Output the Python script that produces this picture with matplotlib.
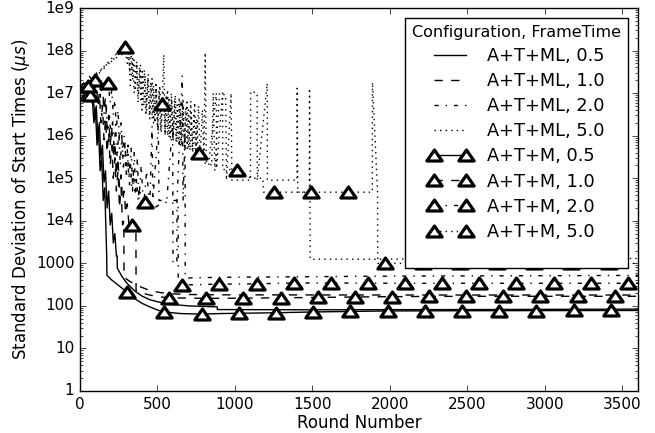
import matplotlib
matplotlib.use("Agg")
import matplotlib.pyplot as plt
from matplotlib.lines import Line2D
from matplotlib.markers import MarkerStyle
from matplotlib.path import Path

# A+T+ML runs (lines only)
ml05_x = [0, 20, 40, 60, 75, 85, 95, 105, 115, 125, 135, 145, 155, 165, 175, 185, 195, 205, 215, 225, 235, 240,
          241, 270, 300, 350, 400, 450, 500, 550, 600, 700, 800, 885, 886, 1500, 2500, 3600]
ml05_y = [6e6, 9e6, 1.1e7, 1e7, 6e6, 8e6, 3e6, 5e6, 1e6, 2e6, 3e5, 6e5, 8e4, 1.5e5, 2e4, 5e4, 8e3, 1.5e4, 3e3, 5e3, 1.5e3, 1.5e3,
          770, 500, 350, 230, 170, 140, 125, 115, 108, 100, 97, 95, 82, 81, 82, 84]

ml10_x = [0, 30, 60, 80, 95, 105, 115, 125, 135, 145, 155, 165, 175, 185, 195, 205, 215, 225, 235, 245, 255, 265, 275, 283,
          284, 320, 380, 450, 520, 600, 700, 900, 2000, 3600]
ml10_y = [1.2e7, 2e7, 2.5e7, 2e7, 1.2e7, 1.8e7, 5e6, 1e7, 2e6, 5e6, 8e5, 2.5e6, 4e5, 1.2e6, 2e5, 6e5, 1e5, 3e5, 5e4, 1.5e5, 2e4, 6e4, 8e3, 1e4,
          470, 380, 290, 230, 205, 192, 185, 182, 180, 180]

ml20_x = [0, 30, 60, 90, 110, 120, 130, 140, 150, 160, 170, 180, 190, 200, 210, 220, 230, 240, 250, 260, 270, 280, 290,
          300, 310, 320, 330, 340, 350, 360, 370, 380, 395, 410, 430, 450, 465, 470, 505, 510, 560, 598, 600, 625,
          626, 660, 665, 678, 679, 900, 2000, 3600]
ml20_y = [1e7, 1.5e7, 2e7, 1.7e7, 1.2e7, 5e6, 1e7, 3e6, 7e6, 2e6, 5e6, 1.2e6, 3.5e6, 8e5, 2.5e6, 5e5, 1.8e6, 3e5, 1.3e6, 2e5, 1e6, 1.5e5, 8e5,
          1e5, 6e5, 7e4, 5e5, 5e4, 4e5, 4e4, 3e5, 3e4, 2e5, 2e4, 1.5e5, 2e4, 1.7e6, 3e4, 1.7e6, 3e4, 3e4, 2e6, 1000, 1000,
          3e4, 2.6e7, 3e4, 1.1e6, 450, 470, 500, 520]

ml50_x = [0, 15, 30, 45, 60, 75, 90, 105, 120, 135, 150, 165, 180, 195, 210, 225, 240, 255, 270, 285, 300,
          315, 325, 340, 350, 365, 375, 390, 400, 415, 425, 440, 450, 465, 475, 490, 500, 515, 525, 540, 550,
          565, 575, 590, 600, 615, 625, 640, 650, 665, 675, 690, 700, 715, 725, 740, 750, 765, 775, 790, 800,
          808, 815, 850, 860, 870, 900, 940, 945, 975, 980, 1100, 1101, 1143, 1144, 1208, 1209, 1400, 1401,
          1405, 1480, 1481, 1485, 1920, 1930, 2500, 3600]
ml50_y = [8e6, 1.4e7, 1.1e7, 1.8e7, 1.5e7, 2.4e7, 2e7, 3e7, 2.6e7, 3.8e7, 3.3e7, 4.8e7, 4.2e7, 6e7, 5.2e7, 7.5e7, 6.5e7, 9e7, 8e7, 1.1e8, 9e7,
          8e7, 1.5e7, 6.5e7, 1e7, 5.5e7, 6e6, 4.5e7, 4e6, 3.5e7, 3e6, 2.8e7, 2.5e6, 2.2e7, 2e6, 1.8e7, 1.5e6, 1.5e7, 1.2e6, 8e7, 1e6,
          1.2e7, 9e5, 1e7, 8e5, 9e6, 7e5, 8e6, 6e5, 7.5e6, 5.5e5, 7e6, 5e5, 6.5e6, 4.5e5, 6e6, 4e5, 5e6, 3.5e5, 4e6, 3e5,
          9e7, 2.5e5, 2e5, 1e7, 1.5e5, 1e7, 9e6, 9e4, 1e7, 9e4, 9e4, 1.1e7, 1e7, 9e4, 1.7e7, 9e4, 9e4, 1.3e7,
          4.7e4, 4.7e4, 1.3e7, 1250, 1250, 1250, 1300, 1300]

# A+T+M runs (lines with triangle markers)
m05_x = [0, 30, 65, 80, 90, 100, 110, 120, 130, 140, 150, 160, 168, 172, 174, 200, 250, 304, 350, 400, 450, 500,
         545, 650, 785, 900, 1025, 1265, 1505, 1745, 1985, 2500, 3600]
m05_y = [7e6, 9e6, 9e6, 7e6, 2e6, 4e6, 6e5, 1.2e6, 1.5e5, 3e5, 3e4, 6e4, 5e3, 1.8e3, 525, 420, 300, 210, 150, 115, 95, 80,
         72, 66, 64, 66, 67, 69, 72, 74, 76, 77, 78]

m10_x = [0, 50, 97, 120, 135, 145, 155, 165, 175, 185, 195, 205, 215, 225, 235, 245, 255, 265, 275, 285, 295, 305, 315, 325,
         337, 350, 361, 362, 400, 450, 500, 576, 816, 1055, 1295, 1534, 1774, 2013, 2500, 3600]
m10_y = [1.5e7, 1.8e7, 2e7, 1.8e7, 1e7, 1.5e7, 4e6, 8e6, 1.5e6, 3e6, 6e5, 1.5e6, 3e5, 7e5, 1.2e5, 3e5, 6e4, 1.2e5, 3e4, 5e4, 1.5e4, 2.5e4, 9e3, 1.2e4,
         7800, 8500, 7000, 230, 200, 180, 165, 155, 150, 152, 155, 158, 162, 165, 168, 168]

m20_x = [0, 60, 120, 182, 195, 205, 215, 225, 235, 245, 255, 265, 275, 285, 295, 305, 315, 325, 335, 345, 355, 365, 375,
         385, 400, 421, 450, 480, 520, 600, 633, 634, 661, 900, 1140, 1379, 1619, 2098, 3600]
m20_y = [1.3e7, 1.6e7, 2e7, 1.7e7, 6e6, 1.2e7, 3e6, 7e6, 1.5e6, 4e6, 8e5, 2e6, 4e5, 1e6, 2e5, 5e5, 1e5, 2.5e5, 6e4, 1.5e5, 4e4, 9e4, 3e4,
         6e4, 2.5e4, 2.7e4, 2.5e4, 2e4, 2.5e4, 3e4, 3e4, 400, 310, 325, 330, 345, 345, 340, 340]

m50_x = [0, 25, 50, 80, 110, 140, 170, 200, 230, 260, 290,
         305, 312, 322, 330, 340, 348, 358, 366, 376, 384, 394, 402, 412, 420, 430, 438, 448, 456, 466, 474, 484, 492,
         502, 510, 520, 530, 538, 548, 556, 566, 574, 584, 592, 602, 610, 620, 628, 638, 646, 656, 664, 674, 682, 692,
         700, 710, 718, 728, 736, 746, 754, 764, 770, 790, 830, 880, 881, 920, 921, 1010, 1060, 1100, 1180,
         1185, 1886, 1887, 1920, 1921, 2500, 3600]
m50_y = [1.2e7, 1.3e7, 1.5e7, 2e7, 2.7e7, 3.6e7, 4.8e7, 6.3e7, 8e7, 1e8, 1.2e8,
         5e7, 1e8, 3e7, 8e7, 2e7, 6e7, 1.3e7, 5e7, 9e6, 4e7, 7e6, 3.2e7, 5e6, 2.6e7, 4e6, 2.2e7, 3e6, 1.8e7, 2.5e6, 1.5e7, 2e6, 1.3e7,
         1.6e6, 1.1e7, 1.3e6, 5.5e6, 1e7, 1.1e6, 9e6, 1e6, 8e6, 9e5, 7e6, 8e5, 6.5e6, 7e5, 6e6, 6.5e5, 5.5e6, 6e5, 5e6, 5.5e5, 4.5e6, 5e5,
         4e6, 4.5e5, 3.5e6, 4e5, 3e6, 3.5e5, 2.5e6, 3e5, 4e5, 2.5e5, 2e5, 1e7, 1.7e5, 1e7, 1.6e5, 1.6e5, 1.3e5, 1e5, 1e5,
         4.7e4, 4.7e4, 1.8e7, 4.7e4, 1000, 1000, 1000]

# triangle positions for the A+T+M runs
mk05_x = [65, 304, 545, 785, 1025, 1265, 1505, 1745, 1985, 2225, 2465, 2705, 2945, 3185, 3425]
mk05_y = [9e6, 210, 72, 64, 67, 69, 72, 74, 76, 77, 77, 77, 77, 78, 78]
mk10_x = [97, 337, 576, 816, 1055, 1295, 1534, 1774, 2013, 2253, 2492, 2732, 2971, 3211, 3450]
mk10_y = [2e7, 7800, 155, 150, 152, 155, 158, 162, 165, 168, 168, 168, 168, 168, 168]
mk20_x = [182, 421, 661, 900, 1140, 1379, 1619, 1858, 2098, 2337, 2577, 2816, 3056, 3295, 3535]
mk20_y = [1.7e7, 2.7e4, 310, 325, 330, 345, 345, 342, 340, 340, 340, 340, 340, 340, 340]
mk50_x = [50, 290, 530, 770, 1010, 1250, 1490, 1730, 1970, 2210, 2450, 2690, 2930, 3170, 3410]
mk50_y = [1.5e7, 1.2e8, 5.5e6, 4e5, 1.6e5, 4.7e4, 4.7e4, 4.7e4, 1000, 1000, 1000, 1000, 1000, 1000, 1000]

frame_times = ["0.5", "1.0", "2.0", "5.0"]
styles = ["-", "--", "-.", ":"]
y_ticks = [1, 10, 100, 1000, 1e4, 1e5, 1e6, 1e7, 1e8, 1e9]
y_labels = ["1", "10", "100", "1000", "1e4", "1e5", "1e6", "1e7", "1e8", "1e9"]


def main():
    plt.style.use("classic")
    plt.rcParams["mathtext.fontset"] = "dejavusans"

    # slightly flattened triangle, like the original markers
    tri_path = Path([(-1, -0.72), (1, -0.72), (0, 0.72), (-1, -0.72)], closed=True)
    tri = MarkerStyle(tri_path, joinstyle="miter")
    mk = dict(marker=tri, markersize=11, markerfacecolor="w",
              markeredgecolor="k", markeredgewidth=2.3)

    fig = plt.figure(figsize=(6.55, 4.33), dpi=100, facecolor="w")
    ax = fig.add_axes([0.1221, 0.097, 0.8519, 0.8845])
    ax.set_facecolor("w")

    ml = [(ml05_x, ml05_y), (ml10_x, ml10_y), (ml20_x, ml20_y), (ml50_x, ml50_y)]
    m = [(m05_x, m05_y), (m10_x, m10_y), (m20_x, m20_y), (m50_x, m50_y)]
    marks = [(mk05_x, mk05_y), (mk10_x, mk10_y), (mk20_x, mk20_y), (mk50_x, mk50_y)]

    for i in range(4):
        ax.plot(ml[i][0], ml[i][1], color="k", linestyle=styles[i], linewidth=1.0)
        ax.plot(m[i][0], m[i][1], color="k", linestyle=styles[i], linewidth=1.0)
    for i in range(4):
        ax.plot(marks[i][0], marks[i][1], linestyle="none", zorder=5, **mk)

    ax.set_yscale("log")
    ax.set_xlim(0, 3600)
    ax.set_ylim(1, 1e9)
    ax.set_xticks(range(0, 3600, 500))
    ax.set_yticks(y_ticks)
    ax.set_yticklabels(y_labels)
    ax.tick_params(labelsize=11)
    ax.set_xlabel("Round Number", fontsize=12, labelpad=2)
    ax.set_ylabel(r"Standard Deviation of Start Times ($\mu s$)", fontsize=12, labelpad=3)

    handles = []
    labels = []
    for i in range(4):
        handles.append(Line2D([], [], color="k", linestyle=styles[i], linewidth=1.0))
        labels.append("A+T+ML, " + frame_times[i])
    for i in range(4):
        handles.append(Line2D([], [], color="k", linestyle=styles[i], linewidth=1.0, **mk))
        labels.append("A+T+M, " + frame_times[i])
    # empty spacer row: the original box has extra room under the last entry
    handles.append(Line2D([], [], linestyle="none"))
    labels.append(" ")

    leg = ax.legend(handles, labels, loc="upper right", title="Configuration, FrameTime",
                    prop={"size": 12.8}, numpoints=2, labelspacing=0.4, handlelength=2.4,
                    handletextpad=0.85, borderaxespad=0.55, fancybox=False, framealpha=1)
    leg.get_title().set_fontsize(11.5)
    leg.get_texts()[-1].set_fontsize(4)
    leg.set_zorder(10)

    plt.savefig("out.png", dpi=100, facecolor="w")
    plt.close()


if __name__ == '__main__':
    main()
